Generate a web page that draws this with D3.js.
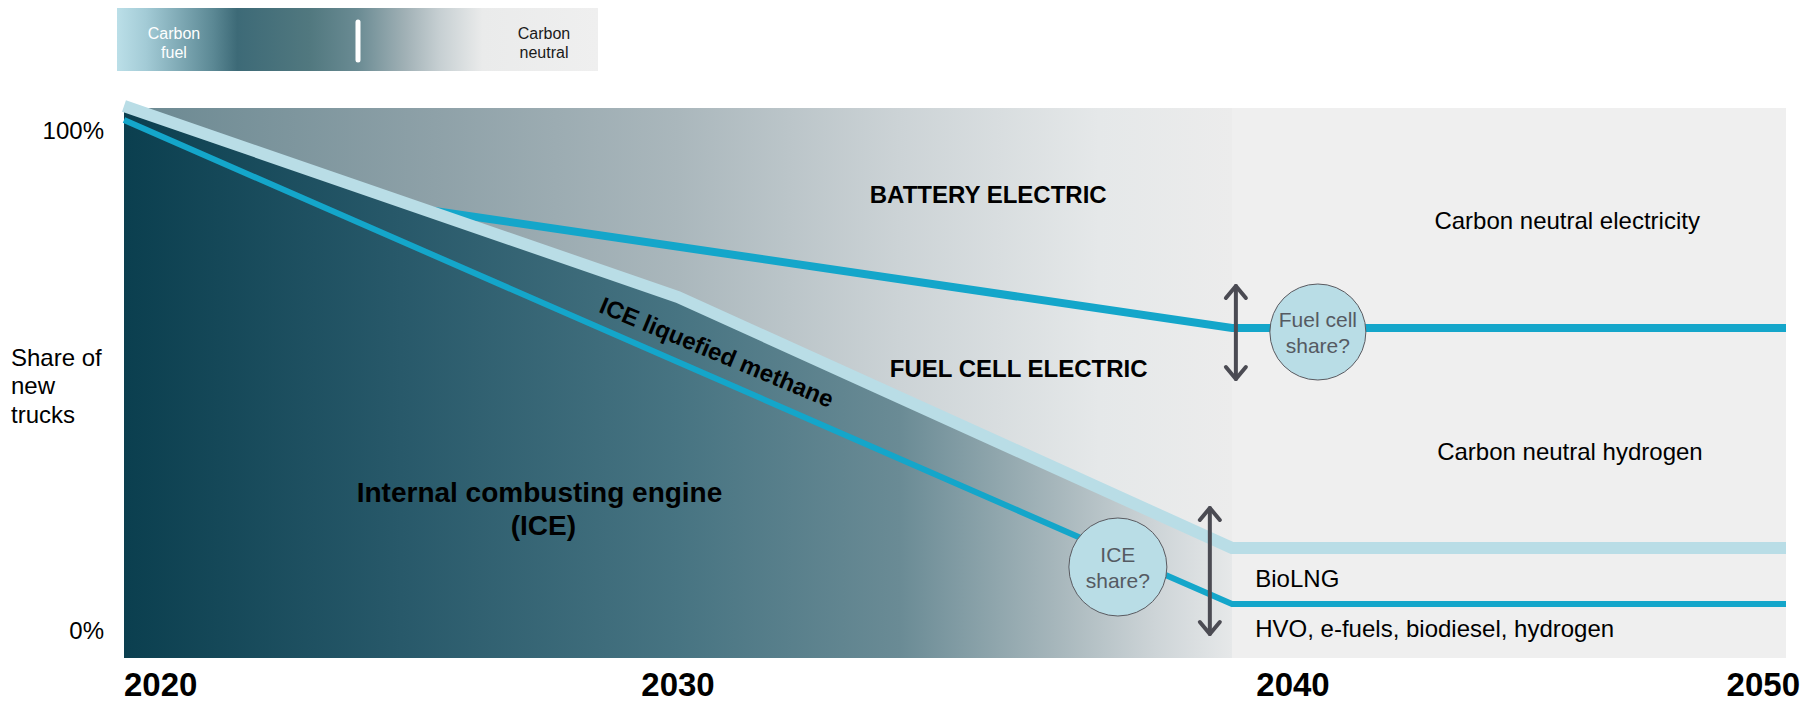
<!DOCTYPE html>
<html><head><meta charset="utf-8">
<script src="https://cdn.jsdelivr.net/npm/d3@7/dist/d3.min.js"></script>
<style>
body{margin:0;background:#fff}
svg text{font-family:"Liberation Sans",Arial,Helvetica,sans-serif}
</style>
</head><body>
<svg id="chart" width="1803" height="702"></svg>
<script>
// ---------- data ----------
const years = [2020, 2030, 2040, 2050];
const methaneUpper = [104.8, 66.6, 16.4, 16.4];   // light band: top of ICE liquefied methane
const iceLine = [102.0, 53.6, 5.2, 5.2];          // blue line: conventional ICE share
const batteryYears = [2025.3, 2040, 2050];
const batteryLine = [84.3, 60.4, 60.4];           // blue line: battery / fuel cell split
const yearLabels = ["2020", "2030", "2040", "2050"];
const yTickValues = [100, 0];
const yTickLabels = ["100%", "0%"];
const yAxisTitle = ["Share of", "new", "trucks"];
const legendLabels = [["Carbon", "fuel"], ["Carbon", "neutral"]];

// ---------- setup ----------
const svg = d3.select("#chart");
const plotTop = 108, plotBottom = 658;
const x = d3.scaleLinear().domain([2020, 2050]).range([124, 1786]);
const y = d3.scaleLinear().domain([0, 100]).range([630, 130]);
const defs = svg.append("defs");

function grad(id, stops, x1, x2) {
  const g = defs.append("linearGradient").attr("id", id)
    .attr("gradientUnits", "userSpaceOnUse")
    .attr("x1", x1).attr("x2", x2).attr("y1", 0).attr("y2", 0);
  stops.forEach(s => g.append("stop").attr("offset", s[0]).attr("stop-color", s[1]));
}
grad("gLower", [[0, "#0b3f4f"], [0.25, "#28596a"], [0.5, "#477482"], [0.7, "#6a8b95"], [0.84, "#a6b6bb"], [0.93, "#cdd4d7"], [1, "#e6e8e9"]], x(2020), x(2040));
grad("gUpper", [[0, "#6a8891"], [0.28, "#8ea1a8"], [0.5, "#aab7bc"], [0.7, "#ccd3d6"], [0.88, "#e5e8e9"], [1, "#ececec"]], x(2020), x(2040));
grad("gLegend", [[0, "#bbdfe8"], [0.06, "#a3cbd6"], [0.2, "#5b8894"], [0.25, "#3d6a77"], [0.4, "#51787f"], [0.5, "#6a8b93"], [0.6, "#a1b1b6"], [0.67, "#c6cfd2"], [0.76, "#eaebeb"], [1, "#efefef"]], 117, 598);

// ---------- legend bar ----------
svg.append("rect").attr("x", 117).attr("y", 8).attr("width", 481).attr("height", 63).attr("fill", "url(#gLegend)");
svg.append("line").attr("x1", 358).attr("x2", 358).attr("y1", 22).attr("y2", 60)
  .attr("stroke", "#fff").attr("stroke-width", 5).attr("stroke-linecap", "round");
[[174, "#ffffff"], [544, "#1a1a1a"]].forEach((p, i) => {
  const t = svg.append("text").attr("x", p[0]).attr("y", 39).attr("text-anchor", "middle")
    .attr("font-size", 16).attr("fill", p[1]);
  legendLabels[i].forEach((s, j) => t.append("tspan").attr("x", p[0]).attr("dy", j ? 19 : 0).text(s));
});

// ---------- backgrounds ----------
svg.append("rect").attr("x", x(2039.66)).attr("y", plotTop).attr("width", x(2050) - x(2039.66))
  .attr("height", plotBottom - plotTop).attr("fill", "#efefef");
svg.append("rect").attr("x", x(2020)).attr("y", plotTop).attr("width", x(2040) - x(2020))
  .attr("height", plotBottom - plotTop).attr("fill", "url(#gUpper)");

const ice = years.map((yr, i) => ({yr, v: methaneUpper[i]})).filter(d => d.yr <= 2040);
svg.append("path").datum(ice)
  .attr("d", d3.area().x(d => x(d.yr)).y0(plotBottom).y1(d => y(d.v)))
  .attr("fill", "url(#gLower)");

// ---------- lines ----------
const line = d3.line().x(d => x(d[0])).y(d => y(d[1]));
svg.append("path").datum(batteryYears.map((yr, i) => [yr, batteryLine[i]]))
  .attr("d", line).attr("fill", "none").attr("stroke", "#14a6ca").attr("stroke-width", 8);
svg.append("path").datum(years.map((yr, i) => [yr, methaneUpper[i]]))
  .attr("d", line).attr("fill", "none").attr("stroke", "#b9dde6").attr("stroke-width", 12);
svg.append("path").datum(years.map((yr, i) => [yr, iceLine[i]]))
  .attr("d", line).attr("fill", "none").attr("stroke", "#14a6ca").attr("stroke-width", 6);

// ---------- double arrows ----------
function dblArrow(yr, v1, v2) {
  const ax = x(yr), a = y(v1), b = y(v2);
  const g = svg.append("g").attr("stroke", "#4b4b53").attr("stroke-width", 4)
    .attr("stroke-linecap", "round").attr("stroke-linejoin", "round").attr("fill", "none");
  g.append("line").attr("x1", ax).attr("x2", ax).attr("y1", a + 1).attr("y2", b - 1);
  g.append("polyline").attr("points", `${ax - 10},${a + 13} ${ax},${a + 1} ${ax + 10},${a + 13}`);
  g.append("polyline").attr("points", `${ax - 10},${b - 13} ${ax},${b - 1} ${ax + 10},${b - 13}`);
}
dblArrow(2040.07, 69, 50);
dblArrow(2039.6, 24.6, -1);

// ---------- bubbles ----------
function bubble(yr, v, r, lines) {
  const cx = x(yr), cy = y(v);
  svg.append("circle").attr("cx", cx).attr("cy", cy).attr("r", r)
    .attr("fill", "#b9dde6").attr("stroke", "#5a5a60").attr("stroke-width", 1);
  const t = svg.append("text").attr("text-anchor", "middle").attr("font-size", 21).attr("fill", "#555a62");
  lines.forEach((s, j) => t.append("tspan").attr("x", cx).attr("y", cy - 5 + j * 26).text(s));
}
bubble(2041.55, 59.6, 48, ["Fuel cell", "share?"]);
bubble(2037.94, 12.6, 49, ["ICE", "share?"]);

// ---------- labels ----------
function label(txt, px, py, opts = {}) {
  return svg.append("text").attr("x", px).attr("y", py)
    .attr("text-anchor", opts.anchor || "middle")
    .attr("dominant-baseline", "central")
    .attr("font-size", opts.size || 24)
    .attr("font-weight", opts.bold ? "bold" : "normal")
    .attr("fill", opts.fill || "#000")
    .text(txt);
}
label("BATTERY ELECTRIC", x(2035.6), y(87.2), {bold: true, size: 24});
label("FUEL CELL ELECTRIC", x(2036.15), y(52.4), {bold: true, size: 24});
label("Carbon neutral electricity", x(2046.05), y(82));
label("Carbon neutral hydrogen", x(2046.1), y(35.8));
label("BioLNG", x(2040.42), y(10.4), {anchor: "start"});
label("HVO, e-fuels, biodiesel, hydrogen", x(2040.42), y(0.4), {anchor: "start"});
label("Internal combusting engine", x(2027.5), y(27.6), {bold: true, size: 28});
label("(ICE)", x(2027.57), y(21), {bold: true, size: 28});
label("ICE liquefied methane", x(2030.7), y(55.6), {bold: true, size: 24})
  .attr("transform", `rotate(22.6 ${x(2030.7)} ${y(55.6)})`);

// y axis labels
yTickValues.forEach((v, i) => label(yTickLabels[i], 104, y(v), {anchor: "end"}));
yAxisTitle.forEach((s, i) => label(s, 11, 357 + i * 28.5, {anchor: "start"}));

// x axis labels
const anchors = ["start", "middle", "middle", "end"];
const shifts = [0, 0, 61, 14];
years.forEach((yr, i) => {
  svg.append("text").attr("x", x(yr) + shifts[i]).attr("y", 696)
    .attr("text-anchor", anchors[i])
    .attr("font-family", "'Liberation Sans Narrow','Arial Narrow','Liberation Sans',Arial,sans-serif")
    .attr("font-weight", "bold").attr("font-size", 33).attr("fill", "#000")
    .text(yearLabels[i]);
});
</script>
</body></html>
